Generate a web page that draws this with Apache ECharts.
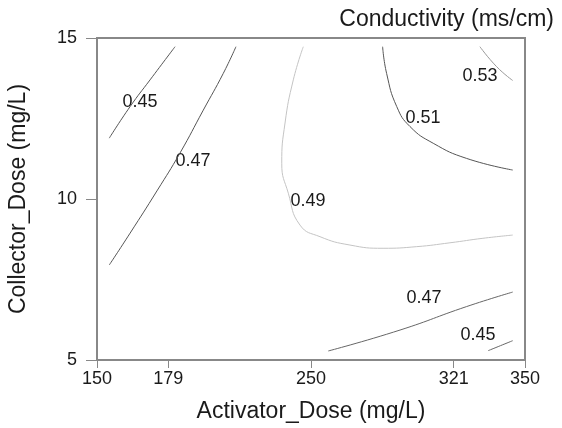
<!DOCTYPE html>
<html>
<head>
<meta charset="utf-8">
<title>Conductivity contour</title>
<script src="https://cdn.jsdelivr.net/npm/echarts@6/dist/echarts.min.js"></script>
<style>
html, body { margin: 0; padding: 0; background: #fff; }
#main { width: 562px; height: 428px; }
</style>
</head>
<body>
<div id="main"></div>
<script>
// x axis is drawn in coded units, tick labels give the real dose
var xTicks = [-1.5, -1, 0, 1, 1.5];
var xTickLabels = ['150', '179', '250', '321', '350'];
var yTicks = [5, 10, 15];

// contour lines: [coded activator, collector dose]
var c045a = [[-0.953, 14.73], [-1.128, 13.70], [-1.268, 12.87], [-1.414, 11.89]];
var c047a = [[-0.526, 14.73], [-0.615, 13.90], [-0.755, 12.76], [-0.918, 11.43],
             [-1.080, 10.25], [-1.268, 8.94], [-1.414, 7.95]];
var c049 = [[-0.054, 14.73], [-0.124, 13.70], [-0.182, 12.36], [-0.205, 11.11], [-0.159, 10.18],
            [-0.077, 9.19], [0.063, 8.83], [0.273, 8.57], [0.505, 8.47], [0.741, 8.52],
            [0.974, 8.64], [1.205, 8.78], [1.414, 8.88]];
var c051 = [[0.502, 14.73], [0.530, 13.90], [0.601, 12.87], [0.694, 12.25], [0.857, 11.73],
            [1.091, 11.26], [1.414, 10.90]];
var c053 = [[1.184, 14.73], [1.301, 14.11], [1.414, 13.68]];
var c047b = [[0.121, 5.28], [0.624, 5.93], [1.091, 6.66], [1.414, 7.11]];
var c045b = [[1.242, 5.29], [1.414, 5.60]];

// contour labels: [x, y, text]
var contourLabels = [
	[-1.198, 13.01, '0.45'],
	[-0.827, 11.18, '0.47'],
	[-0.021, 9.94, '0.49'],
	[0.785, 12.52, '0.51'],
	[1.184, 13.82, '0.53'],
	[0.792, 6.93, '0.47'],
	[1.170, 5.78, '0.45']
];

var myChart = echarts.init(document.getElementById('main'));

function contour(data, color) {
	return {
		type: 'line',
		data: data,
		smooth: 0.5,
		symbol: 'none',
		silent: true,
		lineStyle: { color: color, width: 1 }
	};
}

var font = 'Arial, "Liberation Sans", sans-serif';
var textColor = '#1a1a1a';

var option = {
	animation: false,
	title: {
		text: 'Conductivity (ms/cm)',
		right: 3,
		top: 3,
		textStyle: { fontFamily: font, fontWeight: 'normal', fontSize: 23, color: textColor }
	},
	grid: {
		left: 97, right: 37, top: 38, bottom: 68,
		outerBoundsMode: 'none',
		containLabel: false,
		show: true,
		borderColor: '#888',
		borderWidth: 2
	},
	xAxis: {
		type: 'value',
		min: -1.5,
		max: 1.5,
		name: 'Activator_Dose (mg/L)',
		nameLocation: 'middle',
		nameGap: 40,
		nameTextStyle: { fontFamily: font, fontSize: 23, color: textColor },
		splitLine: { show: false },
		axisLine: { onZero: false, lineStyle: { color: '#888', width: 2 } },
		axisTick: { customValues: xTicks, length: 8, lineStyle: { color: '#888', width: 1 } },
		axisLabel: {
			customValues: xTicks,
			margin: 10,
			fontFamily: font,
			fontSize: 18,
			color: textColor,
			formatter: function (v) {
				var i = xTicks.indexOf(v);
				return i >= 0 ? xTickLabels[i] : '';
			}
		}
	},
	yAxis: {
		type: 'value',
		min: 5,
		max: 15,
		name: 'Collector_Dose (mg/L)',
		nameLocation: 'middle',
		nameGap: 67,
		nameTextStyle: { fontFamily: font, fontSize: 23, color: textColor },
		splitLine: { show: false },
		axisLine: { onZero: false, lineStyle: { color: '#888', width: 2 } },
		axisTick: { customValues: yTicks, length: 11, lineStyle: { color: '#888', width: 1 } },
		axisLabel: { customValues: yTicks, margin: 20, fontFamily: font, fontSize: 18, color: textColor }
	},
	series: [
		contour(c045a, '#555'),
		contour(c047a, '#555'),
		contour(c049, '#c4c4c4'),
		contour(c051, '#555'),
		contour(c053, '#999'),
		contour(c047b, '#666'),
		contour(c045b, '#666'),
		{
			type: 'scatter',
			data: contourLabels,
			symbolSize: 0,
			silent: true,
			itemStyle: { opacity: 1 },
			label: {
				show: true,
				position: 'inside',
				fontFamily: font,
				fontSize: 18,
				color: textColor,
				formatter: function (p) { return p.data[2]; }
			}
		}
	]
};

myChart.setOption(option);
</script>
</body>
</html>
